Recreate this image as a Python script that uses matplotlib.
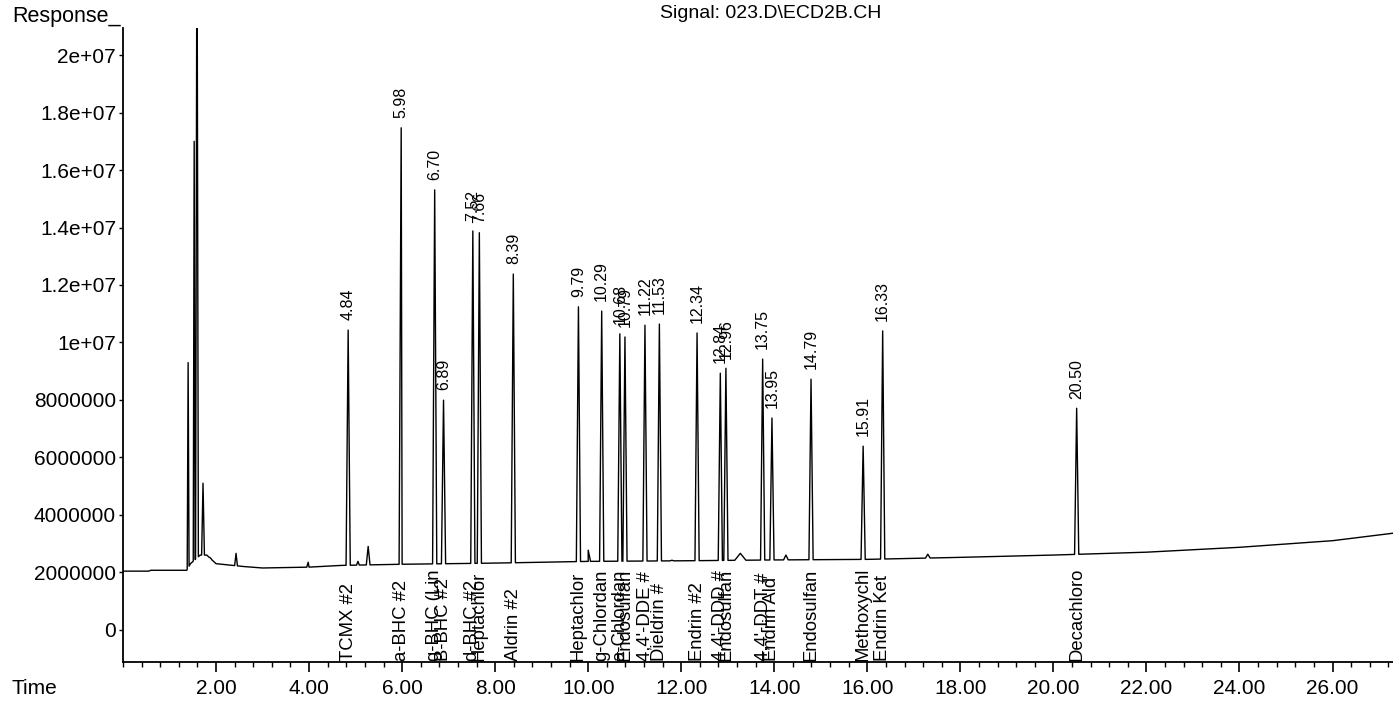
import numpy as np
import matplotlib
matplotlib.use("Agg")
import matplotlib.pyplot as plt
from matplotlib.ticker import MultipleLocator, FixedLocator
from matplotlib.transforms import blended_transform_factory

plt.rcParams['font.family'] = ['Liberation Sans', 'DejaVu Sans']

# --- labelled peaks: retention time (min), apex response, compound name ---
peak_times = [4.84, 5.98, 6.70, 6.89, 7.52, 7.66, 8.39, 9.79, 10.29, 10.68,
              10.79, 11.22, 11.53, 12.34, 12.84, 12.96, 13.75, 13.95, 14.79,
              15.91, 16.33, 20.50]
peak_heights = [10.43e6, 17.47e6, 15.31e6, 7.99e6, 13.88e6, 13.82e6, 12.38e6,
                11.24e6, 11.09e6, 10.30e6, 10.19e6, 10.60e6, 10.64e6, 10.33e6,
                8.93e6, 9.10e6, 9.42e6, 7.37e6, 8.72e6, 6.39e6, 10.40e6, 7.71e6]
compounds = ["TCMX #2", "a-BHC #2", "g-BHC (Lin", "B-BHC #2", "d-BHC #2",
             "Heptachlor", "Aldrin #2", "Heptachlor", "g-Chlordan", "a-Chlordan",
             "Endosulfan", "4,4'-DDE #", "Dieldrin #", "Endrin #2", "4,4'-DDD #",
             "Endosulfan", "4,4'-DDT #", "Endrin Ald", "Endosulfan", "Methoxychl",
             "Endrin Ket", "Decachloro"]

# --- unlabelled peaks (solvent front and small impurities) ---
minor_times = [1.40, 1.53, 1.59, 1.72, 1.88, 2.43, 3.98, 5.05, 5.27, 10.00,
               11.80, 13.27, 14.25, 17.30]
minor_heights = [9.3e6, 17.0e6, 26.0e6, 5.1e6, 2.5e6, 2.66e6, 2.35e6, 2.38e6,
                 2.9e6, 2.77e6, 2.42e6, 2.66e6, 2.6e6, 2.63e6]
minor_widths = [0.02, 0.02, 0.03, 0.03, 0.03, 0.03, 0.03, 0.03, 0.04, 0.05,
                0.04, 0.12, 0.05, 0.05]

# --- baseline knots ---
base_times = [0.0, 0.55, 0.60, 1.37, 1.45, 1.66, 1.80, 2.00, 2.60, 3.00, 4.00,
              4.70, 6.00, 8.00, 10.00, 12.00, 14.00, 16.00, 18.00, 20.00,
              22.00, 24.00, 26.00, 27.30]
base_values = [2.04e6, 2.04e6, 2.07e6, 2.07e6, 2.30e6, 2.60e6, 2.60e6, 2.30e6,
               2.20e6, 2.15e6, 2.18e6, 2.24e6, 2.28e6, 2.32e6, 2.38e6, 2.40e6,
               2.43e6, 2.45e6, 2.52e6, 2.60e6, 2.70e6, 2.87e6, 3.10e6, 3.36e6]

y_ticks = [0, 2e6, 4e6, 6e6, 8e6, 10e6, 12e6, 14e6, 16e6, 18e6, 20e6]
y_labels = ["0", "2000000", "4000000", "6000000", "8000000", "1e+07",
            "1.2e+07", "1.4e+07", "1.6e+07", "1.8e+07", "2e+07"]
x_ticks = [2, 4, 6, 8, 10, 12, 14, 16, 18, 20, 22, 24, 26]

# build the trace: baseline knots plus a narrow triangle for each peak
pts = list(zip(base_times, base_values))
all_t = list(peak_times) + list(minor_times)
all_h = list(peak_heights) + list(minor_heights)
all_w = [0.045] * len(peak_times) + list(minor_widths)
for t, h, w in zip(all_t, all_h, all_w):
    foot_l = np.interp(t - w, base_times, base_values)
    foot_r = np.interp(t + w, base_times, base_values)
    pts += [(t - w, foot_l), (t, h), (t + w, foot_r)]
pts.sort(key=lambda p: p[0])
trace_t = [p[0] for p in pts]
trace_y = [p[1] for p in pts]

fig = plt.figure(figsize=(13.93, 7.03), dpi=100)
ax = fig.add_axes([0.0883, 0.058, 0.9117, 0.902])
ax.plot(trace_t, trace_y, color='black', linewidth=1.0)

ax.set_xlim(0, 27.3)
ax.set_ylim(-1.13e6, 2.094e7)
for s in ['top', 'right']:
    ax.spines[s].set_visible(False)
ax.spines['left'].set_linewidth(1.3)
ax.spines['bottom'].set_linewidth(1.3)

ax.yaxis.set_major_locator(FixedLocator(y_ticks))
ax.set_yticklabels(y_labels)
ax.xaxis.set_major_locator(FixedLocator(x_ticks))
ax.set_xticklabels(["%.2f" % v for v in x_ticks])
ax.xaxis.set_minor_locator(MultipleLocator(0.4))
ax.tick_params(axis='x', which='major', direction='out', length=7, width=1.2,
               labelsize=15, pad=5)
ax.tick_params(axis='x', which='minor', direction='out', length=3.5, width=1)
ax.tick_params(axis='y', which='major', direction='out', length=3, width=1,
               labelsize=15, pad=2)

# retention time labels above each peak
for t, h in zip(peak_times, peak_heights):
    ax.annotate("%.2f" % t, xy=(t, h), xytext=(0, 7), textcoords='offset points',
                rotation=90, ha='center', va='bottom', fontsize=11.5)

# compound names along the bottom
trans = blended_transform_factory(ax.transData, ax.transAxes)
for t, name in zip(peak_times, compounds):
    ax.annotate(name, xy=(t, 0), xycoords=trans, xytext=(0, 1),
                textcoords='offset points', rotation=90, ha='center',
                va='bottom', fontsize=13.3)

fig.text(0.0086, 0.976, "Response_", fontsize=15.5, va='center', ha='left')
fig.text(0.0086, 0.021, "Time", fontsize=15, va='center', ha='left')
fig.text(0.633, 0.981, "Signal: 023.D\\ECD2B.CH", fontsize=14,
         va='center', ha='right')

fig.savefig("out.png", dpi=100)
